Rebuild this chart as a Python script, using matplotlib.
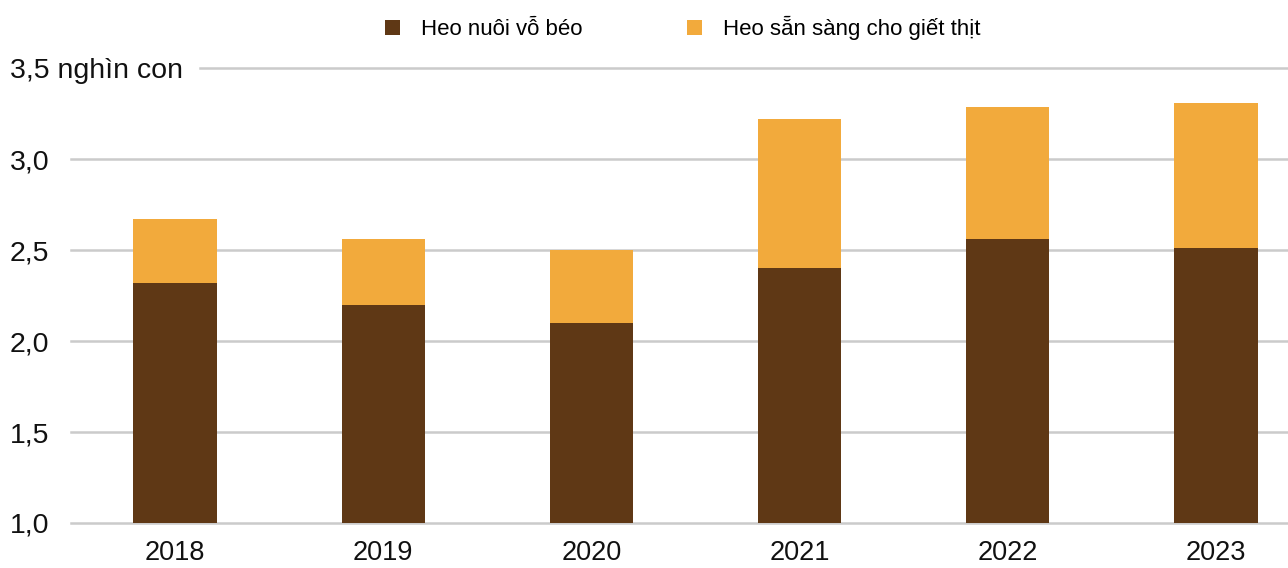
import matplotlib.pyplot as plt
import numpy as np

plt.rcParams['font.family'] = ['Liberation Sans', 'DejaVu Sans']

# data (nghìn con)
years = ['2018', '2019', '2020', '2021', '2022', '2023']
fattening = [2.32, 2.20, 2.10, 2.40, 2.56, 2.51]
ready = [0.35, 0.36, 0.40, 0.82, 0.73, 0.80]
yticks = [1.0, 1.5, 2.0, 2.5, 3.0, 3.5]
ytick_labels = ['1,0', '1,5', '2,0', '2,5', '3,0', '3,5 nghìn con']
legend_labels = ['Heo nuôi vỗ béo', 'Heo sẵn sàng cho giết thịt']

brown = '#5f3815'
orange = '#f2aa3c'
grid_c = '#cbcbcb'

W, H = 1288, 568
fig = plt.figure(figsize=(W / 100, H / 100), dpi=100)
# axes runs past the right edge on purpose (last bar sits close to the border)
left, right, bottom, top = 71, 1320, 523, 68.5
ax = fig.add_axes([left / W, (H - bottom) / H, (right - left) / W, (bottom - top) / H])

x = np.arange(len(years))
b1 = ax.bar(x, fattening, width=0.4, color=brown, zorder=3, label=legend_labels[0])
b2 = ax.bar(x, ready, width=0.4, bottom=fattening, color=orange, zorder=3, label=legend_labels[1])

ax.set_xlim(-0.5, len(years) - 0.5)
ax.set_ylim(1.0, 3.5)

# gridlines, top one shortened to leave room for the unit label
for y in yticks:
    xmin = (200 - left) / (right - left) if y == yticks[-1] else 0
    ax.axhline(y, xmin=xmin, xmax=1, color=grid_c, lw=1.8, zorder=1, clip_on=False)

ax.set_yticks(yticks)
ax.set_yticklabels(ytick_labels, fontsize=20.5, color='#111111')
for lab in ax.get_yticklabels():
    lab.set_horizontalalignment('left')
ax.yaxis.set_tick_params(length=0, pad=(left - 10) * 0.72)

ax.set_xticks(x)
ax.set_xticklabels(years, fontsize=19.5, color='#111111')
ax.xaxis.set_tick_params(length=0, pad=12)

for s in ax.spines.values():
    s.set_visible(False)

fig.legend(handles=[b1, b2], labels=legend_labels, loc='center',
           bbox_to_anchor=(683 / W, 1 - 28 / H), ncol=2, frameon=False,
           fontsize=16, handlelength=0.68, handleheight=0.68,
           handletextpad=0.95, columnspacing=4.7)

fig.savefig('out.png', dpi=100)
